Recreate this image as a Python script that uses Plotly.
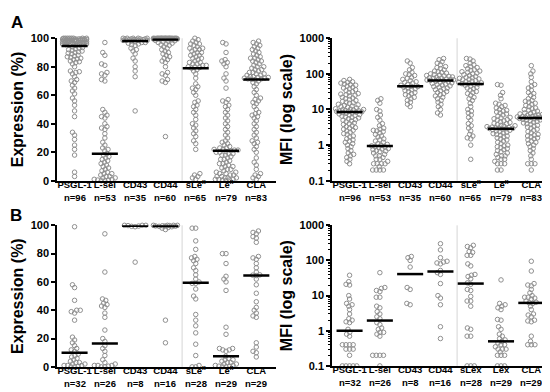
import numpy as np
import plotly.graph_objects as go

# ---------------- categories / labels ----------------
CATS_A = ["PSGL-1", "L-sel", "CD43", "CD44", "sLe<sup>x</sup>", "Le<sup>x</sup>", "CLA"]
CATS_B_MFI = ["PSGL-1", "L-sel", "CD43", "CD44", "sLex", "Lex", "CLA"]
N_A = [96, 53, 35, 60, 65, 79, 83]
N_B = [32, 26, 8, 16, 28, 29, 29]

# ---------------- Panel A, Expression (%) ----------------
A_EXP_PSGL1 = [100,100,100,100,100,100,100,100, 99.5,99.5,99.5,99.5,99.5,99.5,
               99,99,99,99,99,99, 98.5,98.5,98.5,98.5,98.5, 98,98,98,98,98,
               97.5,97.5,97.5,97.5, 97,97,97,97, 96.5,96.5,96.5, 96,96,96, 95.5,95.5, 95,95,
               94,93.5,93,92.5,92,91.5,91,90.5,90,89.5,89,88,87.5,87,86.5,86,85.5,85,
               84,83.5,83,82,80,77,76.5,76,75,73,71,70,69,67,65,63,61,58,56,53,49,45,
               34,32,29,25,22,18,6,3]
A_EXP_LSEL = [97,90,88,82,81,76,75,74,71,70, 50,48,46,45,44,40,38,37,36,33,30,27,25,23,22,21,
              19, 18,17,16,15,14,13,12,11,10,9,8,7,6,5,5,4,3,3,2,2,1,1,0.5,0.5,0,0]
A_EXP_CD43 = [100,100,100,100,100, 99.5,99.5,99.5,99.5, 99,99,99,99, 98.5,98.5,98.5,98.5,
              98, 97.5,97,97,96.5,96,95.5,95,93,92,91,89,86,84,80,77,73,49]
A_EXP_CD44 = [100,100,100,100,100,100,100,100,100,100,100,100,100,100,100,
              99.8,99.8,99.8,99.8,99.8,99.8,99.8,99.8, 99.5,99.5,99.5,99.5,99.5,99.5,99.5,
              98.8,98.5,98.2,98,97.5,97,96.5,96,95.5,95,94,93,92,91,90,89,88,87,86,85,
              84,83,80,76,75,74,71,70,69,31]
A_EXP_SLEX = [100,99,98,97,96,96,95,94,93,93,92,92,91,90,90,89,88,88,87,86,86,85,84,83,83,
              82,82,81,81,80,80,79.5, 79,
              78,77,75,72,68,66,65,64,62,60,56,55,53,52,50,48,46,43,40,39,37,35,33,31,28,
              26,22,5,4,3,2,1]
A_EXP_LEX = [97,96,90,85,84,83,82,80,75,72,70,65,57,56,55,53,52,50,48,46,44,42,40,38,36,
             34,32,30,28,27,26,25,24,23,23,22,22,21.5,21.5, 21,
             20.5,20,20,19,19,18,18,17,16,15,15,14,13,12,12,11,10,10,9,8,8,7,6,6,5,5,4,4,
             3,3,2,2,2,1,1,1,0.5,0.5,0]
A_EXP_CLA = [98,97,96,95,94,93,92,91,90,89,88,87,86,86,85,84,84,83,82,81,80,80,79,78,78,
             77,76,76,75,75,74,74,73,73,72.5,72.5,72,72,71.5,71.5,71.2, 71,
             70,69,68,66,64,62,60,58,57,56,55,54,52,50,48,47,46,45,44,42,40,38,36,34,32,
             30,28,27,26,24,22,20,16,13,11,8,5,4,3,2,1]

# ---------------- Panel A, MFI ----------------
A_MFI_PSGL1 = [70,65,60,58,55,52,50,48,45,42,40,38,36,34,32,30,28,27,26,25,24,22,21,20,19,
               18,17,16,15.5,15,14,13.5,13,12.5,12,11.5,11,10.5,10.2,10,9.8,9.6,9.4,9.2,
               9.0,8.9,8.8,8.6,
               8.4,8.2,8,7.8,7.5,7.2,7,6.8,6.5,6.2,6,5.8,5.5,5.2,5,4.8,4.5,4.2,4,3.8,3.5,
               3.3,3.1,3,2.8,2.6,2.5,2.3,2.1,2,1.8,1.7,1.5,1.4,1.3,1.2,1.1,1.0,0.9,0.8,0.7,
               0.6,0.55,0.5,0.45,0.4,0.35,0.3]
A_MFI_LSEL = [20,18,15,10,9,7,6,5,4,3.5,3,2.8,2.6,2.5,2.4,2.2,2,1.8,1.7,1.5,1.4,1.3,1.2,
              1.1,1.05,1.0, 0.95,
              0.9,0.88,0.85,0.8,0.78,0.75,0.7,0.68,0.65,0.6,0.55,0.5,0.5,0.45,0.4,0.4,0.35,
              0.3,0.3,0.3,0.3,0.25,0.2,0.2,0.2,0.2]
A_MFI_CD43 = [230,200,150,130,110,100,95,90,80,75,70,65,60,58,55,50,48, 45,
              44,42,40,38,36,34,32,30,28,26,24,22,20,18,16,14,12]
A_MFI_CD44 = [270,250,220,200,180,160,150,140,130,120,115,110,105,100,95,92,90,88,85,82,
              80,78,76,74,72,70,69,68,67,66,
              64,62,60,58,56,54,52,50,48,46,44,42,40,38,36,34,32,30,28,26,24,22,20,18,16,
              14,12,10,8,7]
A_MFI_SLEX = [270,260,230,200,180,170,160,150,140,130,125,120,115,110,105,100,95,90,85,80,
              78,75,72,70,68,65,62,60,58,56,55,53, 52,
              50,48,45,42,40,38,35,32,30,28,25,22,20,18,15,12,10,9,8,7,6,5,4,3.5,3,2.5,2,
              1.8,1.6,1.5,1,0.4]
A_MFI_LEX = [50,48,30,25,20,15,14,13,12,11,10,9.5,9,8.5,8,7.5,7,6.5,6,5.8,5.5,5.2,5,4.8,
             4.5,4.3,4.1,4,3.8,3.6,3.5,3.4,3.3,3.2,3.1,3.05,3.0,2.95,2.92, 2.9,
             2.8,2.7,2.6,2.5,2.4,2.3,2.2,2.1,2,1.9,1.8,1.7,1.6,1.5,1.4,1.3,1.2,1.1,1,0.95,
             0.9,0.85,0.8,0.75,0.7,0.65,0.6,0.55,0.5,0.5,0.45,0.4,0.4,0.35,0.3,0.3,0.3,
             0.2,0.2]
A_MFI_CLA = [170,120,100,80,60,50,45,40,35,30,28,25,22,20,18,17,16,15,14,13,12,11,10.5,
             10,9.5,9,8.5,8,7.8,7.5,7.2,7,6.8,6.6,6.5,6.4,6.3,6.2,6.1,6.0,5.9, 5.8,
             5.7,5.6,5.5,5.3,5.1,5,4.8,4.6,4.4,4.2,4,3.8,3.6,3.4,3.2,3,2.8,2.6,2.4,2.2,2,
             1.9,1.8,1.7,1.6,1.5,1.4,1.3,1.2,1.1,1,0.9,0.8,0.7,0.6,0.5,0.4,0.3,0.3,0.3,0.2]

# ---------------- Panel B, Expression (%) ----------------
B_EXP_PSGL1 = [99,58,56,47,40,40,39,38,33,21,19,17,15,13,12,11,
               9,8,7,6,5,4,3,3,2,2,1,1,1,0.5,0,0]
B_EXP_LSEL = [94,67,48,47,45,44,43,42,38,35,26,20,18,
              15,13,11,8,5,3,2,1,1,1,0.5,0,0]
B_EXP_CD43 = [100,100,100,99.8,99.5,99.3,99,74]
B_EXP_CD44 = [100,100,100,100,99.8,99.7,99.6,99.5,99.4,99.3,99,98.5,98,97,33,17]
B_EXP_SLEX = [98,98,89,83,78,77,76,75,73,70,68,65,62,60,
              59,59,55,50,48,37,33,29,24,16,8,1,0,0]
B_EXP_LEX = [80,80,73,64,62,60,54,28,23,13,13,12,12,11, 7.5,
             6,5,5,4,3,3,2,2,1,1,0.5,0.5,0,0]
B_EXP_CLA = [96,95,94,92,91,88,78,77,76,73,70,67,65,64.8, 64.5,
             62,58,52,46,42,40,38,36,35,17,14,11,10,7]

# ---------------- Panel B, MFI ----------------
B_MFI_PSGL1 = [38,25,21,20,10,8,6,5.5,5,4,3,2.2,2,1.8,1.7,1.1,
               0.9,0.8,0.7,0.4,0.4,0.4,0.4,0.3,0.3,0.3,0.2,0.1,0.1,0.1,0.1,0.1]
B_MFI_LSEL = [45,17,16,14,13,9,9,5,4.5,3.5,3,2.5,2.2,
              1.7,1.5,1.2,1.1,0.9,0.9,0.8,0.7,0.2,0.2,0.2,0.2,0.1]
B_MFI_CD43 = [130,120,100,65,17,15,6,5.5]
B_MFI_CD44 = [300,200,120,95,90,85,80,52,45,40,22,10,8.5,5.5,1.3,0.6]
B_MFI_SLEX = [270,250,230,180,170,140,140,80,70,40,38,35,30,23,
              21,15,14,9.5,7,7,5,1.2,1.1,0.7,0.7,0.1,0.1,0.1]
B_MFI_LEX = [28,6,5.5,5,4.5,4,2.1,2,1.3,1.1,0.8,0.7,0.6,0.55, 0.5,
             0.45,0.4,0.4,0.35,0.3,0.3,0.3,0.25,0.2,0.2,0.2,0.1,0.1,0.1]
B_MFI_CLA = [95,50,22,20,19,15,12,10,9,9,8.5,8,7,6.5, 6.2,
             6,5,4,3,2.8,2.5,2,1.9,1.8,0.7,0.5,0.4,0.4,0.4]

A_EXP = [A_EXP_PSGL1, A_EXP_LSEL, A_EXP_CD43, A_EXP_CD44, A_EXP_SLEX, A_EXP_LEX, A_EXP_CLA]
A_MFI = [A_MFI_PSGL1, A_MFI_LSEL, A_MFI_CD43, A_MFI_CD44, A_MFI_SLEX, A_MFI_LEX, A_MFI_CLA]
B_EXP = [B_EXP_PSGL1, B_EXP_LSEL, B_EXP_CD43, B_EXP_CD44, B_EXP_SLEX, B_EXP_LEX, B_EXP_CLA]
B_MFI = [B_MFI_PSGL1, B_MFI_LSEL, B_MFI_CD43, B_MFI_CD44, B_MFI_SLEX, B_MFI_LEX, B_MFI_CLA]

# ---------------- geometry ----------------
W, H = 550, 392
XR = [-0.58, 6.65]
FONT = "Liberation Sans, Arial, sans-serif"
PT_COLOR = "#8f8f8f"
SEP_X = 3.55


def swarm(ypx, d=3.6, cap=12.0):
    ypx = np.asarray(ypx, dtype=float)
    n = len(ypx)
    xs = np.zeros(n)
    px_l, py_l = [], []
    for i in np.argsort(ypx, kind="stable"):
        y = ypx[i]
        neigh = [(a, b) for a, b in zip(px_l, py_l) if abs(b - y) < d]
        cands = [0.0]
        for a, b in neigh:
            dx = np.sqrt(d * d - (b - y) ** 2)
            cands += [a + dx, a - dx]
        cands = [c for c in cands if abs(c) <= cap]
        cands.sort(key=lambda c: (round(abs(c), 3), c))
        best = None
        for c in cands:
            if all((c - a) ** 2 + (y - b) ** 2 >= d * d - 1e-6 for a, b in neigh):
                best = c
                break
        if best is None:
            grid = np.linspace(-cap, cap, int(2 * cap) + 1)
            best = max(grid, key=lambda c: min((c - a) ** 2 + (y - b) ** 2 for a, b in neigh))
        xs[i] = best
        px_l.append(best)
        py_l.append(y)
    return xs


fig = go.Figure()

panels = [
    # data, xaxis, yaxis, log?, x-domain px, y-domain px (top,bottom), labels, n
    (A_EXP, "x", "y", False, (49, 268), (25, 172), CATS_A, N_A),
    (A_MFI, "x2", "y2", True, (324, 543), (25, 172), CATS_A, N_A),
    (B_EXP, "x3", "y3", False, (49, 268), (218, 364), CATS_A, N_B),
    (B_MFI, "x4", "y4", True, (324, 543), (218, 363), CATS_B_MFI, N_B),
]

annotations = []
shapes = []
for k, (data, xa, ya, islog, (x0, x1), (yt, yb), labels, ns) in enumerate(panels):
    pxu = (x1 - x0) / (XR[1] - XR[0])
    hpx = yb - yt
    xs_all, ys_all = [], []
    mx, my = [], []
    cap = 14.0 if islog else 12.0
    for i, vals in enumerate(data):
        v = np.asarray(vals, dtype=float)
        ypx = (np.log10(v) + 1) * hpx / 4.0 if islog else v * hpx / 100.0
        off = swarm(ypx, d=3.6, cap=cap)
        xs_all += list(i + off / pxu)
        ys_all += list(v)
        med = float(np.median(v))
        mx += [i - 0.43, i + 0.43, None]
        my += [med, med, None]
    fig.add_trace(go.Scatter(
        x=xs_all, y=ys_all, xaxis=xa, yaxis=ya, mode="markers",
        marker=dict(symbol="circle-open", size=4.5, color=PT_COLOR, line=dict(width=1, color=PT_COLOR)),
        cliponaxis=islog, showlegend=False, hoverinfo="y"))
    fig.add_trace(go.Scatter(
        x=mx, y=my, xaxis=xa, yaxis=ya, mode="lines",
        line=dict(color="black", width=2.5), showlegend=False, hoverinfo="skip", cliponaxis=False))

    sfx = "" if k == 0 else str(k + 1)
    xdom = [x0 / W, x1 / W]
    ydom = [(H - yb) / H, (H - yt) / H]
    fig.layout["xaxis" + sfx] = dict(
        domain=xdom, range=XR, anchor=ya, showline=True, linecolor="black", linewidth=1.5,
        showgrid=False, zeroline=False, ticks="", tickmode="array", tickangle=0,
        ticklabelstandoff=-6,
        tickvals=list(range(7)), ticktext=labels,
        tickfont=dict(family=FONT, size=9.5, color="black", weight="bold"))
    if islog:
        minor_vals = [m * 10.0 ** e for e in range(-1, 3) for m in range(2, 10)]
        yax = dict(type="log", range=[-1, 3], tickmode="array",
                   tickvals=[0.1, 1, 10, 100, 1000], ticktext=["0.1", "1", "10", "100", "1000"],
                   minor=dict(tickmode="array", tickvals=minor_vals, ticks="outside",
                              ticklen=2, tickwidth=1, tickcolor="black", showgrid=False))
        title = "MFI (log scale)"
    else:
        yax = dict(range=[0, 100], tickmode="array", tickvals=[0, 20, 40, 60, 80, 100])
        title = "Expression (%)"
    yax.update(domain=ydom, anchor=xa, showline=True, linecolor="black", linewidth=1.5,
               showgrid=False, zeroline=False, ticks="outside", ticklen=4, tickwidth=1.5,
               tickcolor="black",
               tickfont=dict(family=FONT, size=11, color="black", weight="bold"),
               title=dict(text=title, standoff=3,
                          font=dict(family=FONT, size=16, color="black", weight="bold")))
    fig.layout["yaxis" + sfx] = yax

    # n= labels (second row of category labels)
    ny = (H - (yb + 17.5)) / H
    for i, nv in enumerate(ns):
        annotations.append(dict(x=i, y=ny, xref=xa, yref="paper", text="n=%d" % nv,
                                showarrow=False, xanchor="center", yanchor="middle",
                                font=dict(family=FONT, size=9.5, color="black", weight="bold")))
    # light separator between protein and glycan groups
    shapes.append(dict(type="line", xref=xa, yref=ya + " domain", x0=SEP_X, x1=SEP_X,
                       y0=0, y1=1, line=dict(color="#d6d6d6", width=1), layer="below"))

annotations.append(dict(x=9 / W, y=(H - 9) / H, xref="paper", yref="paper", text="A",
                        showarrow=False, xanchor="center", yanchor="middle",
                        font=dict(family=FONT, size=17, color="black", weight="bold")))
annotations.append(dict(x=8 / W, y=(H - 208) / H, xref="paper", yref="paper", text="B",
                        showarrow=False, xanchor="center", yanchor="middle",
                        font=dict(family=FONT, size=17, color="black", weight="bold")))

fig.update_layout(width=W, height=H, margin=dict(l=0, r=0, t=0, b=0),
                  paper_bgcolor="white", plot_bgcolor="white",
                  annotations=annotations, shapes=shapes,
                  font=dict(family=FONT, color="black"))

fig.write_html("out.html")
